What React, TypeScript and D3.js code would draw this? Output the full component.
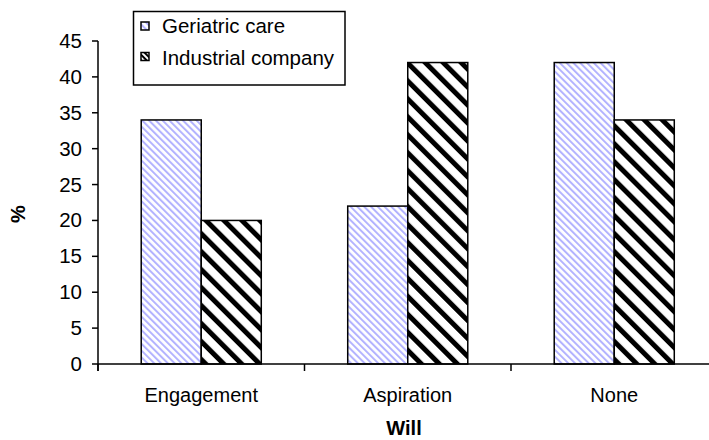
import * as d3 from 'd3';

const categories = ['Engagement', 'Aspiration', 'None'];
const seriesNames = ['Geriatric care', 'Industrial company'];
const geriatric = [34, 22, 42];
const industrial = [20, 42, 34];
const yTicks = [0, 5, 10, 15, 20, 25, 30, 35, 40, 45];

const FONT = 'Arial, "Liberation Sans", sans-serif';

export default function App() {
  const width = 709;
  const height = 440;
  const left = 98;
  const top = 41;
  const bottom = 364;

  const x = d3.scaleBand<string>().domain(categories).range([left, left + 3 * 206.5]).padding(0);
  const xSub = d3.scaleBand<string>().domain(seriesNames).range([0, x.bandwidth()]).paddingInner(0).paddingOuter(0.72);
  const y = d3.scaleLinear().domain([0, 45]).range([bottom, top]);

  const values = [geriatric, industrial];
  const fills = ['url(#hatchBlue)', 'url(#hatchBlack)'];
  const boundaries = [...categories.map((c) => x(c) as number), x.range()[1]];

  return (
    <svg width={width} height={height} style={{ position: 'absolute', left: 0, top: 0, background: '#fff' }}>
      <defs>
        <pattern id="hatchBlue" patternUnits="userSpaceOnUse" width={4.8} height={4.8} patternTransform="rotate(-45)">
          <rect width={4.8} height={4.8} fill="#fff" />
          <rect width={2} height={4.8} fill="#b3b3ff" />
        </pattern>
        <pattern id="hatchBlack" patternUnits="userSpaceOnUse" width={12.7} height={12.7} patternTransform="rotate(-45)">
          <rect width={12.7} height={12.7} fill="#fff" />
          <rect width={5} height={12.7} fill="#000" />
        </pattern>
        <pattern id="hatchBlackSmall" patternUnits="userSpaceOnUse" width={4} height={4} patternTransform="rotate(-45)">
          <rect width={4} height={4} fill="#fff" />
          <rect width={2} height={4} fill="#000" />
        </pattern>
      </defs>

      {/* bars */}
      {categories.map((c, ci) =>
        seriesNames.map((s, si) => (
          <rect
            key={c + s}
            x={(x(c) as number) + (xSub(s) as number)}
            y={y(values[si][ci])}
            width={xSub.bandwidth()}
            height={bottom - y(values[si][ci])}
            fill={fills[si]}
            stroke="#000"
            strokeWidth={1.5}
          />
        ))
      )}

      {/* y axis */}
      <line x1={left} x2={left} y1={top} y2={bottom + 7} stroke="#000" strokeWidth={1.5} />
      {yTicks.map((t) => (
        <g key={t}>
          <line x1={left - 6} x2={left} y1={y(t)} y2={y(t)} stroke="#000" strokeWidth={1.5} />
          <text x={82} y={y(t) + 7} textAnchor="end" fontFamily={FONT} fontSize={20.5}>
            {t}
          </text>
        </g>
      ))}

      {/* x axis */}
      <line x1={left} x2={x.range()[1]} y1={bottom} y2={bottom} stroke="#000" strokeWidth={1.5} />
      {boundaries.map((b, i) => (
        <line key={i} x1={b} x2={b} y1={bottom} y2={bottom + 7} stroke="#000" strokeWidth={1.5} />
      ))}
      {categories.map((c) => (
        <text key={c} x={(x(c) as number) + x.bandwidth() / 2} y={401.5} textAnchor="middle" fontFamily={FONT} fontSize={20}>
          {c}
        </text>
      ))}

      <text x={404} y={435} textAnchor="middle" fontFamily={FONT} fontSize={20} fontWeight="bold">
        Will
      </text>
      <text transform="translate(25,214) rotate(-90)" textAnchor="middle" fontFamily={FONT} fontSize={20} fontWeight="bold">
        %
      </text>

      {/* legend */}
      <rect x={133.5} y={11.5} width={211.5} height={73.5} fill="#fff" stroke="#000" strokeWidth={1.5} />
      {seriesNames.map((s, i) => (
        <g key={s}>
          <rect x={141} y={22 + i * 30.5} width={8} height={8} fill={i === 0 ? 'url(#hatchBlue)' : 'url(#hatchBlackSmall)'} stroke="#000" strokeWidth={1.5} />
          <text x={162} y={33 + i * 32} fontFamily={FONT} fontSize={20.5}>
            {s}
          </text>
        </g>
      ))}
    </svg>
  );
}
